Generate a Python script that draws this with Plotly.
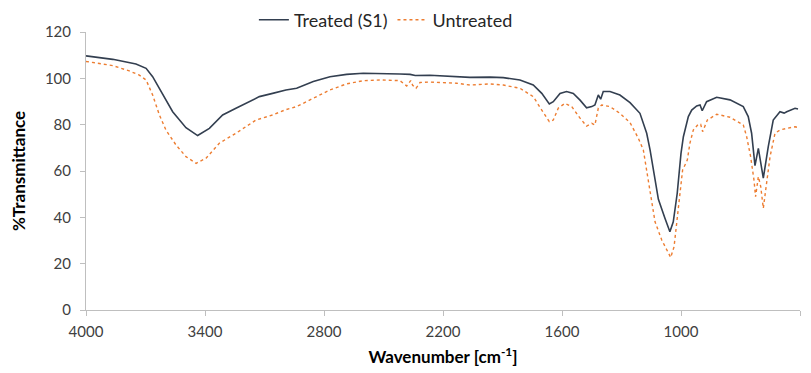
import plotly.graph_objects as go

# Treated (S1)
wn_treated = [4000, 3865, 3748, 3697, 3664, 3613, 3563, 3496, 3437, 3378, 3311, 3244, 3126, 3059,
              2992, 2938, 2854, 2770, 2686, 2602, 2518, 2417, 2366, 2340, 2266, 2131, 2064, 1963,
              1896, 1812, 1745, 1702, 1664, 1644, 1610, 1577, 1543, 1509, 1476, 1450, 1434, 1417,
              1405, 1392, 1358, 1308, 1257, 1207, 1173, 1156, 1140, 1114, 1081, 1056, 1039, 1019,
              1000, 988, 963, 946, 921, 904, 893, 871, 820, 753, 686, 661, 644, 627, 610, 585, 560,
              535, 501, 480, 467, 450, 425, 410]
t_treated = [109.7, 108.2, 106.2, 104.3, 100.7, 92.8, 85.6, 78.7, 75.3, 78.4, 84.2, 87.1, 92.1, 93.5,
             95.0, 95.7, 98.6, 100.7, 101.7, 102.2, 102.2, 101.9, 101.7, 101.2, 101.3, 100.7, 100.4, 100.5,
             100.3, 99.3, 97.1, 93.5, 88.9, 89.9, 93.5, 94.3, 93.5, 90.6, 87.3, 87.8, 88.5, 92.8,
             91.0, 94.3, 94.3, 92.8, 89.5, 84.9, 76.3, 69.1, 60.4, 47.8, 39.6, 33.8, 38.1, 50.4,
             67.6, 74.8, 83.5, 86.3, 88.1, 88.5, 86.0, 89.9, 91.8, 90.7, 87.8, 83.5, 76.3, 62.3, 69.8, 56.9, 70.5,
             82.0, 85.6, 85.0, 85.6, 86.2, 87.1, 86.8]

# Untreated
wn_untreated = [4000, 3865, 3782, 3731, 3697, 3664, 3630, 3597, 3546, 3496, 3445, 3395, 3328, 3244,
                3143, 3059, 2992, 2938, 2854, 2770, 2686, 2602, 2518, 2417, 2383, 2363, 2353, 2336,
                2316, 2266, 2131, 2064, 1963, 1896, 1812, 1745, 1702, 1664, 1644, 1619, 1585, 1551,
                1509, 1476, 1450, 1434, 1417, 1400, 1358, 1308, 1257, 1215, 1190, 1173, 1156, 1148,
                1131, 1097, 1072, 1052, 1035, 1019, 1005, 992, 968, 955, 938, 913, 901, 891, 867,
                820, 753, 703, 686, 669, 649, 632, 624, 610, 598, 585, 568, 551, 526, 501, 467,
                425, 410]
t_untreated = [107.3, 105.5, 103.2, 101.4, 99.3, 92.8, 84.2, 77.7, 71.2, 66.2, 63.3, 65.5, 72.0, 76.3,
               82.0, 84.2, 86.5, 87.8, 91.4, 95.0, 97.6, 99.0, 99.3, 99.0, 96.7, 99.0, 97.0, 95.7,
               98.2, 98.4, 97.9, 97.1, 97.6, 97.1, 95.7, 92.1, 86.3, 81.3, 82.0, 87.1, 89.2, 87.8,
               82.8, 79.4, 80.6, 79.9, 87.1, 88.5, 87.8, 84.9, 80.9, 74.1, 69.1, 60.4, 50.4, 47.5,
               38.1, 30.2, 25.9, 22.7, 27.3, 40.3, 51.8, 60.4, 64.8, 72.0, 77.7, 80.2, 80.2, 77.0, 82.0,
               84.5, 83.2, 80.6, 79.9, 74.8, 66.2, 56.1, 48.9, 57.6, 53.3, 43.9, 56.1, 66.2, 76.3, 77.7, 78.4,
               79.1, 78.8]

x_ticks = [4000, 3400, 2800, 2200, 1600, 1000, 400]
y_ticks = [0, 20, 40, 60, 80, 100, 120]

FONT = "Lato, 'Open Sans', sans-serif"

fig = go.Figure()
fig.add_trace(go.Scatter(x=wn_treated, y=t_treated, mode="lines", name="Treated (S1)",
                         line=dict(color="#333F50", width=1.6)))
fig.add_trace(go.Scatter(x=wn_untreated, y=t_untreated, mode="lines", name="Untreated",
                         line=dict(color="#ED7D31", width=1.4, dash="dot")))

fig.update_layout(
    width=811, height=373,
    margin=dict(l=86, r=11, t=32, b=63, autoexpand=False),
    paper_bgcolor="white", plot_bgcolor="white",
    font=dict(family=FONT, size=15, color="#404040"),
    showlegend=True,
    legend=dict(orientation="h", x=0.42, xanchor="center", y=1.043, yanchor="middle",
                font=dict(family=FONT, size=18, color="#262626"),
                bgcolor="rgba(0,0,0,0)", itemwidth=30, tracegroupgap=0),
    xaxis=dict(range=[4000, 400], tickmode="array", tickvals=x_ticks,
               ticktext=[str(v) for v in x_ticks], automargin=False,
               showgrid=False, zeroline=False, showline=True, linecolor="#BFBFBF", linewidth=1,
               ticks="outside", ticklen=5, tickcolor="#BFBFBF", ticklabelstandoff=3,
               tickfont=dict(family=FONT, size=15, color="#404040"),
               title=dict(text="<b>Wavenumber [cm<sup>-1</sup>]</b>", standoff=12,
                          font=dict(family=FONT, size=17, color="#000000"))),
    yaxis=dict(range=[0, 120], tickmode="array", tickvals=y_ticks, automargin=False,
               showgrid=False, zeroline=False, showline=True, linecolor="#BFBFBF", linewidth=1,
               ticks="outside", ticklen=5, tickcolor="#BFBFBF", ticklabelstandoff=6,
               tickfont=dict(family=FONT, size=15, color="#404040"),
               title=dict(text="<b>%Transmittance</b>", standoff=14,
                          font=dict(family=FONT, size=17, color="#000000"))),
)

fig.write_html("out.html")
